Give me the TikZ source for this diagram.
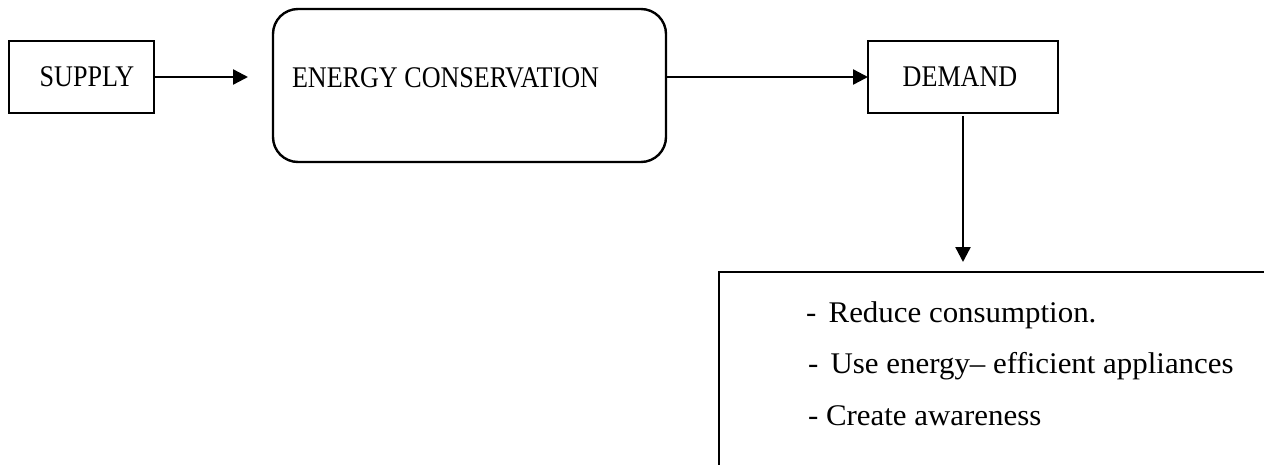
\documentclass[tikz,border=0pt]{standalone}
\usepackage{fontspec}
\setmainfont{Liberation Serif}
\usetikzlibrary{arrows.meta}
\tikzset{
  boxline/.style={draw=black, line width=2.4pt},
  plainbox/.style={boxline, inner sep=0pt, outer sep=0pt, font=\fontsize{30}{34}\selectfont},
  roundbox/.style={boxline, rounded corners=25pt, inner sep=0pt, outer sep=0pt},
  caption/.style={inner sep=0pt, outer sep=0pt, anchor=base west, font=\fontsize{30}{34}\selectfont},
  arr/.style={line width=2.4pt, -{Triangle[length=15pt, width=15pt]}},
}
\newcommand{\capsx}[1]{\scalebox{0.87}[1]{#1}}
\newcommand{\lowx}[1]{\scalebox{1.03}[1]{#1}}
\begin{document}
\begin{tikzpicture}[x=1pt, y=-1pt]
  \useasboundingbox (0,0) rectangle (1264,464);
  \clip (0,0) rectangle (1264,464);
  % boxes
  \node[plainbox, minimum width=145pt, minimum height=72pt] (supply) at (81.5,77) {\hspace*{11pt}\capsx{SUPPLY}};
  \node[roundbox, minimum width=393pt, minimum height=153pt] (energy) at (469.5,85.5) {};
  \node[caption] (energytext) at (292,87) {\capsx{ENERGY CONSERVATION}};
  \node[plainbox, minimum width=190pt, minimum height=72pt] (demand) at (963,77) {\capsx{DEMAND}\hspace*{6pt}};
  \node[boxline, inner sep=0pt, outer sep=0pt, minimum width=601pt, minimum height=248pt] (actions) at (1019.5,396) {};
  \node[caption] (item1) at (806,322) {\lowx{-\hspace*{12pt}Reduce consumption.}};
  \node[caption] (item2) at (808,373) {\lowx{-\hspace*{12pt}Use energy– efficient appliances}};
  \node[caption] (item3) at (808,425) {\lowx{- Create awareness}};
  % connectors
  \draw[arr, shorten >=25pt] (supply.east) -- (supply.east -| energy.west);
  \draw[arr] (energy.east |- demand.west) -- (demand.west);
  \draw[arr, shorten <=3pt, shorten >=10pt] (demand.south) -- (demand.south |- actions.north);
\end{tikzpicture}
\end{document}
